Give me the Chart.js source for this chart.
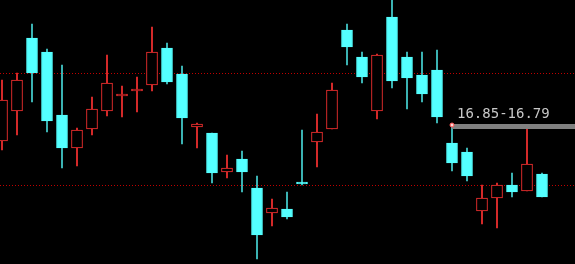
<!DOCTYPE html>
<html>
<head>
<meta charset="utf-8">
<script src="https://cdn.jsdelivr.net/npm/chart.js@4"></script>
<style>
  html, body { margin: 0; padding: 0; background: #000; }
  canvas { display: block; }
</style>
</head>
<body>
<canvas id="kline" width="575" height="264"></canvas>
<script>
// ===== K-line data (prices) =====
const opens  = [16.70, 17.00, 17.73, 17.59, 16.96, 16.63, 16.82, 17.00, 17.15, 17.20,
                17.26, 17.63, 17.37, 16.84, 16.78, 16.39, 16.52, 16.23, 15.98, 16.02,
                16.29, 16.69, 16.82, 17.81, 17.54, 17.00, 17.94, 17.54, 17.36, 17.41,
                16.68, 16.59, 16.00, 16.13, 16.26, 16.20, 16.37];
const highs  = [17.31, 17.38, 17.87, 17.62, 17.46, 16.83, 17.14, 17.56, 17.25, 17.34,
                17.84, 17.68, 17.45, 16.88, 16.78, 16.56, 16.60, 16.35, 16.12, 16.19,
                16.81, 16.97, 17.28, 17.87, 17.59, 17.57, 18.14, 17.59, 17.59, 17.61,
                16.86, 16.63, 16.26, 16.28, 16.38, 16.83, 16.38];
const lows   = [16.61, 16.76, 17.09, 16.79, 16.43, 16.45, 16.76, 16.95, 16.94, 16.99,
                17.20, 17.27, 16.67, 16.63, 16.28, 16.33, 16.19, 15.52, 15.85, 15.92,
                16.26, 16.44, 16.82, 17.46, 17.28, 16.92, 17.23, 17.02, 17.09, 16.88,
                16.40, 16.30, 15.87, 15.83, 16.14, 16.20, 16.14];
const closes = [17.11, 17.31, 17.38, 16.90, 16.63, 16.81, 17.02, 17.28, 17.17, 17.22,
                17.59, 17.29, 16.93, 16.87, 16.38, 16.43, 16.39, 15.76, 16.03, 15.94,
                16.27, 16.79, 17.21, 17.64, 17.34, 17.56, 17.30, 17.33, 17.17, 16.94,
                16.48, 16.35, 16.13, 16.26, 16.19, 16.47, 16.14];

const dottedLevels = [17.38, 16.26];
const rangeLabel = '16.85-16.79';
const rangeLevel = 16.85;
const rangeStartIndex = 30;

const THEME = {
  bg: '#000000',
  up: '#ff3232',
  down: '#54ffff',
  downWick: '#48d8d8',
  dotted: '#c00000',
  rangeBar: '#808080',
  rangeText: '#c8c8c8',
};

const isUp = opens.map((o, i) => closes[i] >= o);
const bodies = opens.map((o, i) => ({ x: i, y: [o, closes[i]] }));
const wicks = lows.map((l, i) => ({ x: i, y: [l, highs[i]] }));

const overlayPlugin = {
  id: 'overlay',
  beforeDatasetsDraw(chart) {
    const { ctx, chartArea, scales } = chart;
    ctx.save();
    ctx.strokeStyle = THEME.dotted;
    ctx.lineWidth = 1;
    ctx.setLineDash([1, 2]);
    dottedLevels.forEach((v) => {
      const y = Math.round(scales.y.getPixelForValue(v)) + 0.5;
      ctx.beginPath();
      ctx.moveTo(chartArea.left, y);
      ctx.lineTo(chartArea.right, y);
      ctx.stroke();
    });
    ctx.restore();
  },
  afterDatasetsDraw(chart) {
    const { ctx, chartArea, scales } = chart;
    const x0 = scales.x.getPixelForValue(rangeStartIndex);
    const y = scales.y.getPixelForValue(rangeLevel);
    ctx.save();
    // gray range bar
    ctx.fillStyle = THEME.rangeBar;
    ctx.fillRect(x0, y - 2, chartArea.right - x0, 5);
    // marker
    ctx.beginPath();
    ctx.arc(x0, y - 1, 2, 0, Math.PI * 2);
    ctx.fillStyle = '#ffd8d8';
    ctx.fill();
    ctx.strokeStyle = '#ff5050';
    ctx.lineWidth = 1;
    ctx.stroke();
    // label
    ctx.fillStyle = THEME.rangeText;
    ctx.font = '14px "DejaVu Sans Mono", "Liberation Mono", monospace';
    ctx.textBaseline = 'alphabetic';
    ctx.textAlign = 'left';
    ctx.fillText(rangeLabel, x0 + 5, y - 8);
    ctx.restore();
  }
};

new Chart(document.getElementById('kline'), {
  type: 'bar',
  data: {
    datasets: [
      {
        // bodies first so they are drawn over the wicks
        data: bodies,
        grouped: false,
        barThickness: 11,
        borderWidth: 1,
        borderSkipped: false,
        borderColor: isUp.map((u) => u ? THEME.up : THEME.down),
        backgroundColor: isUp.map((u) => u ? THEME.bg : THEME.down),
      },
      {
        data: wicks,
        grouped: false,
        barThickness: 1,
        borderWidth: 0,
        backgroundColor: isUp.map((u) => u ? THEME.up : THEME.downWick),
      }
    ]
  },
  options: {
    responsive: false,
    animation: false,
    layout: { padding: 0 },
    plugins: { legend: { display: false }, tooltip: { enabled: false } },
    scales: {
      x: { type: 'linear', display: false, offset: false, bounds: 'ticks', min: -2 / 15, max: 573 / 15 },
      y: { display: false, min: 15.47, max: 18.11 }
    }
  },
  plugins: [overlayPlugin]
});
</script>
</body>
</html>
